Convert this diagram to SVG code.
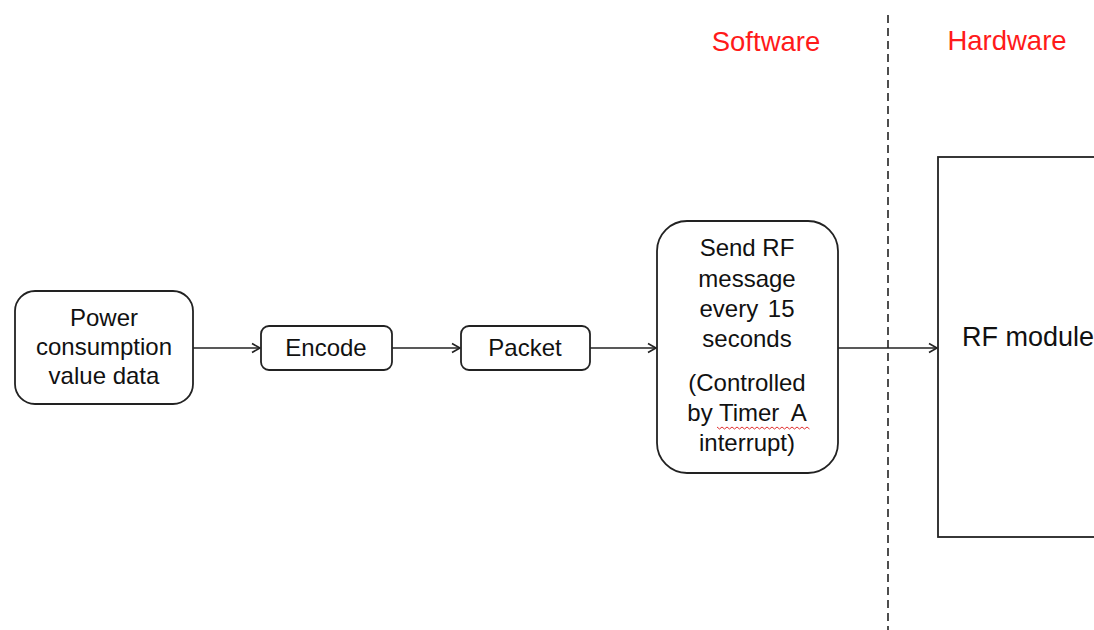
<svg xmlns="http://www.w3.org/2000/svg" width="1094" height="630" viewBox="0 0 1094 630">
<defs>
<style>
.box{fill:#fff;stroke:#222;stroke-width:1.8}
.t{font-family:"Liberation Sans",Arial,sans-serif;font-size:24px;fill:#111;text-anchor:middle}
.big{font-family:"Liberation Sans",Arial,sans-serif;font-size:27px;fill:#111}
.red{font-family:"Liberation Sans",Arial,sans-serif;font-size:27.5px;fill:#ff1a1a;text-anchor:middle}
.con{stroke:#222;stroke-width:1.6;fill:none;marker-end:url(#arr)}
</style>
<marker id="arr" markerUnits="userSpaceOnUse" markerWidth="12" markerHeight="12" refX="9" refY="6" orient="auto">
<path d="M1,1.5 L9,6 L1,10.5" fill="none" stroke="#222" stroke-width="1.6"/>
</marker>
</defs>
<rect width="1094" height="630" fill="#fff"/>
<g id="divider">
<line x1="888" y1="15" x2="888" y2="630" stroke="#222" stroke-width="1.6" stroke-dasharray="8,5"/>
</g>
<g id="label-software"><text class="red" x="766" y="51">Software</text></g>
<g id="label-hardware"><text class="red" x="1007" y="50">Hardware</text></g>
<g id="connectors">
<line class="con" x1="193" y1="348" x2="260" y2="348"/>
<line class="con" x1="392" y1="348" x2="460" y2="348"/>
<line class="con" x1="590" y1="348" x2="656" y2="348"/>
<line class="con" x1="838" y1="348" x2="937" y2="348"/>
</g>
<g id="power">
<rect class="box" x="15" y="291" width="178" height="113" rx="20"/>
<text class="t" x="104" y="326">Power</text>
<text class="t" x="104" y="355">consumption</text>
<text class="t" x="104" y="384">value data</text>
</g>
<g id="encode">
<rect class="box" x="261" y="326" width="131" height="44" rx="8"/>
<text class="t" x="326" y="356">Encode</text>
</g>
<g id="packet">
<rect class="box" x="461" y="326" width="129" height="44" rx="8"/>
<text class="t" x="525" y="356">Packet</text>
</g>
<g id="send">
<rect class="box" x="657" y="221" width="181" height="252" rx="30"/>
<text class="t" x="747" y="256">Send RF</text>
<text class="t" x="747" y="287">message</text>
<text class="t" x="747" y="317" word-spacing="3">every 15</text>
<text class="t" x="747" y="347">seconds</text>
<text class="t" x="747" y="391">(Controlled</text>
<text class="t" x="747" y="421">by Timer<tspan dx="6"> A</tspan></text>
<text class="t" x="747" y="451">interrupt)</text>
<path d="M717,427 l2.5,2 l2.5,-2 l2.5,2 l2.5,-2 l2.5,2 l2.5,-2 l2.5,2 l2.5,-2 l2.5,2 l2.5,-2 l2.5,2 l2.5,-2 l2.5,2 l2.5,-2 l2.5,2 l2.5,-2 l2.5,2 l2.5,-2 l2.5,2 l2.5,-2 l2.5,2 l2.5,-2 l2.5,2 l2.5,-2 l2.5,2 l2.5,-2 l2.5,2 l2.5,-2 l2.5,2 l2.5,-2 l2.5,2 l2.5,-2 l2.5,2 l2.5,-2 l2.5,2 l2.5,-2 l2.5,2" fill="none" stroke="#e03030" stroke-width="1"/>
</g>
<g id="rf-module">
<rect class="box" x="938" y="157" width="170" height="380"/>
<text class="big" x="962" y="346">RF module</text>
</g>
</svg>
